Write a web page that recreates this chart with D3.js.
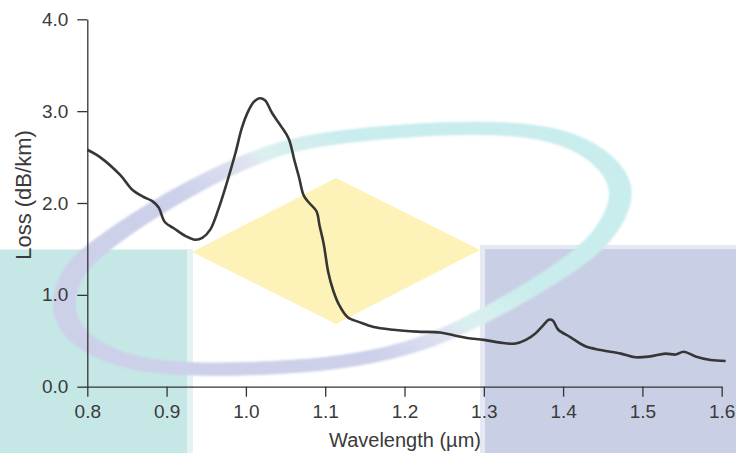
<!DOCTYPE html>
<html>
<head>
<meta charset="utf-8">
<script src="https://cdn.jsdelivr.net/npm/d3@7"></script>
<style>
  html, body { margin: 0; padding: 0; background: #fff; }
  svg { display: block; }
</style>
</head>
<body>
<div id="vis"></div>
<script>
var width = 736,
    height = 453;

// fibre attenuation curve
var wavelength = [0.800, 0.816, 0.842, 0.856, 0.870, 0.882, 0.890, 0.898, 0.910, 0.924,
    0.936, 0.945, 0.955, 0.966, 0.977, 0.987, 0.995, 1.003, 1.010, 1.017,
    1.024, 1.033, 1.044, 1.054, 1.061, 1.067, 1.073, 1.080, 1.089, 1.093,
    1.098, 1.104, 1.110, 1.117, 1.128, 1.144, 1.161, 1.186, 1.216, 1.245,
    1.262, 1.279, 1.300, 1.321, 1.340, 1.353, 1.365, 1.374, 1.382, 1.387,
    1.394, 1.409, 1.428, 1.447, 1.473, 1.491, 1.510, 1.529, 1.542, 1.552,
    1.567, 1.586, 1.605];
var loss = [2.58, 2.50, 2.30, 2.15, 2.07, 2.02, 1.95, 1.79, 1.72, 1.64,
    1.60, 1.62, 1.71, 1.95, 2.25, 2.55, 2.82, 3.00, 3.10, 3.14,
    3.12, 2.98, 2.84, 2.70, 2.47, 2.28, 2.08, 2.00, 1.91, 1.75,
    1.56, 1.24, 1.05, 0.90, 0.76, 0.70, 0.65, 0.62, 0.60, 0.59,
    0.56, 0.53, 0.51, 0.48, 0.47, 0.51, 0.58, 0.66, 0.73, 0.72,
    0.62, 0.54, 0.44, 0.40, 0.36, 0.32, 0.33, 0.36, 0.35, 0.38,
    0.33, 0.29, 0.28];

var xTicks = [0.8, 0.9, 1.0, 1.1, 1.2, 1.3, 1.4, 1.5, 1.6];
var yTicks = [0, 1, 2, 3, 4];

// watermark orbit behind the chart (pixel outline, decoration only)
var ringPts = [[66, 302], [78, 268], [104, 246], [140, 220], [200, 183], [280, 146],
    [340, 136], [450, 127], [530, 129], [577, 143], [607, 166], [620, 193],
    [606, 226], [586, 250], [545, 279], [505, 303], [462, 326], [420, 345],
    [360, 360], [300, 367], [220, 370], [150, 368], [102, 352], [74, 330]];

var data = wavelength.map(function (w, i) { return { w: w, v: loss[i] }; });

var x = d3.scaleLinear().domain([0.8, 1.6]).range([87.3, 721.7]);
var y = d3.scaleLinear().domain([0, 4]).range([386.7, 19.3]);

var svg = d3.select("#vis").append("svg")
    .attr("width", width)
    .attr("height", height);

var defs = svg.append("defs");
var grad = defs.append("linearGradient")
    .attr("id", "ring")
    .attr("gradientUnits", "userSpaceOnUse")
    .attr("x1", 300).attr("y1", 295)
    .attr("x2", 400).attr("y2", 180);
grad.append("stop").attr("offset", 0).attr("stop-color", "#ccd0e9");
grad.append("stop").attr("offset", 0.45).attr("stop-color", "#dfe3f0");
grad.append("stop").attr("offset", 0.55).attr("stop-color", "#dcf0f0");
grad.append("stop").attr("offset", 1).attr("stop-color", "#c9ecec");
defs.append("filter").attr("id", "soft")
    .append("feGaussianBlur").attr("stdDeviation", 1.2);

var bg = svg.append("g");

bg.append("rect").attr("x", 0).attr("y", 249).attr("width", 193).attr("height", 204).attr("fill", "#e3f3f2");
bg.append("rect").attr("x", 0).attr("y", 250).attr("width", 187).attr("height", 203).attr("fill", "#c5e8e6");
bg.append("rect").attr("x", 480).attr("y", 245).attr("width", 256).attr("height", 208).attr("fill", "#e6e9f3");
bg.append("rect").attr("x", 485).attr("y", 249).attr("width", 251).attr("height", 204).attr("fill", "#c9d0e5");

bg.append("path")
    .attr("d", "M192,252 L336,178 L480,250 L336,324 Z")
    .attr("fill", "#fdf3b9");

var ringLine = d3.line().curve(d3.curveBasisClosed);
var ring = bg.append("g").attr("filter", "url(#soft)");
ring.append("path")
    .attr("d", ringLine(ringPts))
    .attr("fill", "none")
    .attr("stroke", "url(#ring)")
    .attr("stroke-width", 13);
// the ends of the orbit are drawn thicker
ring.append("path")
    .attr("transform", "translate(344,248) scale(1.035,1) translate(-344,-248)")
    .attr("d", ringLine(ringPts))
    .attr("fill", "none")
    .attr("stroke", "url(#ring)")
    .attr("stroke-width", 13);

// axes
var g = svg.append("g")
    .attr("font-family", "'Liberation Sans', Arial, sans-serif");

g.append("g")
    .attr("transform", "translate(0," + y(0) + ")")
    .call(d3.axisBottom(x).tickValues(xTicks).tickFormat(d3.format(".1f"))
        .tickSize(10).tickSizeOuter(0).tickPadding(8));

g.append("g")
    .attr("transform", "translate(" + x(0.8) + ",0)")
    .call(d3.axisLeft(y).tickValues(yTicks).tickFormat(d3.format(".1f"))
        .tickSize(10).tickSizeOuter(0).tickPadding(9));

g.selectAll(".domain, .tick line")
    .attr("stroke", "#333")
    .attr("stroke-width", 1.3);
g.selectAll(".tick text")
    .attr("fill", "#3a3a3a")
    .attr("font-size", 19)
    .attr("font-family", "'Liberation Sans', Arial, sans-serif");

g.append("text")
    .attr("x", 405)
    .attr("y", 447)
    .attr("text-anchor", "middle")
    .attr("font-size", 20)
    .attr("fill", "#3a3a3a")
    .text("Wavelength (\u00b5m)");

g.append("text")
    .attr("transform", "translate(31,195) rotate(-90)")
    .attr("text-anchor", "middle")
    .attr("font-size", 22)
    .attr("fill", "#3a3a3a")
    .text("Loss (dB/km)");

// the curve
var line = d3.line()
    .x(function (d) { return x(d.w); })
    .y(function (d) { return y(d.v); })
    .curve(d3.curveCatmullRom.alpha(0.5));

svg.append("path")
    .datum(data)
    .attr("fill", "none")
    .attr("stroke", "#363636")
    .attr("stroke-width", 2.6)
    .attr("stroke-linejoin", "round")
    .attr("d", line);
</script>
</body>
</html>
